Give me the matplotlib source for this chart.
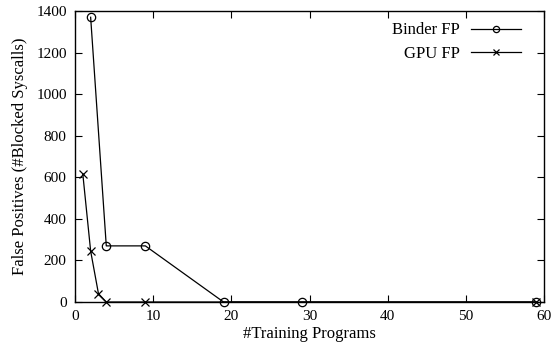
import matplotlib
matplotlib.use("Agg")
import matplotlib.pyplot as plt

# data
binder_x = [2, 4, 9, 19, 29, 59]
binder_fp = [1370, 270, 270, 0, 0, 0]
gpu_x = [1, 2, 3, 4, 9, 59]
gpu_fp = [615, 245, 40, 0, 0, 0]

x_ticks = [0, 10, 20, 30, 40, 50, 60]
y_ticks = [0, 200, 400, 600, 800, 1000, 1200, 1400]

plt.rcParams["font.family"] = ["Liberation Serif", "DejaVu Serif"]
plt.rcParams["font.size"] = 11

fig = plt.figure(figsize=(5.54, 3.56), dpi=100)
ax = fig.add_axes([0.1354, 0.1517, 0.8466, 0.8173])

ax.plot(binder_x, binder_fp, color="black", linewidth=0.9, marker="o",
        markersize=6, markerfacecolor="none", markeredgewidth=0.9,
        label="Binder FP", clip_on=False)
ax.plot(gpu_x, gpu_fp, color="black", linewidth=0.9, marker="x",
        markersize=6, markeredgewidth=0.9, label="GPU FP", clip_on=False)

ax.set_xlim(0, 60)
ax.set_ylim(0, 1400)
ax.set_xticks(x_ticks)
ax.set_yticks(y_ticks)
ax.tick_params(direction="in", top=True, right=True, length=5, width=0.8,
               labelsize=11, pad=6)
for s in ax.spines.values():
    s.set_linewidth(1.0)

ax.set_xlabel("#Training Programs", fontsize=12, labelpad=2)
ax.set_ylabel("False Positives (#Blocked Syscalls)", fontsize=12, labelpad=6)

ax.legend(loc="upper right", bbox_to_anchor=(0.941, 0.937),
          bbox_transform=fig.transFigure, frameon=False, markerfirst=False,
          handlelength=3.0, fontsize=12, borderaxespad=0.0, borderpad=0.0,
          labelspacing=0.45, handletextpad=0.7, markerscale=0.75)

plt.savefig("out.png", dpi=100)
plt.close()
